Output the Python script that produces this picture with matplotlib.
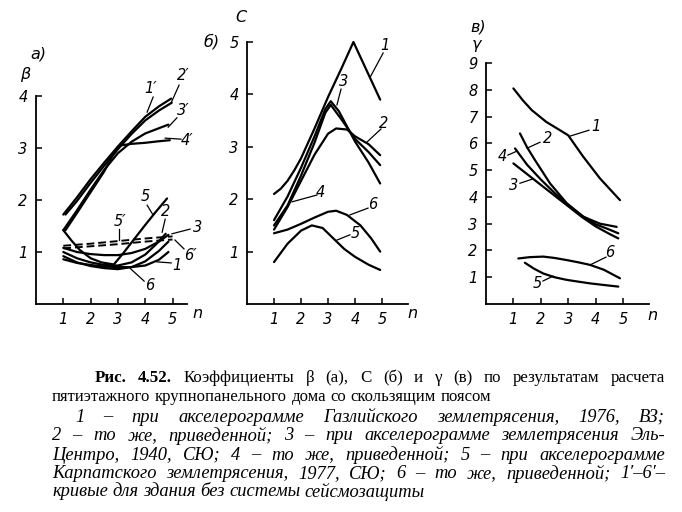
import matplotlib
matplotlib.use("Agg")
import matplotlib.pyplot as plt

W, H = 682, 512

# ---- panel a: beta ----
n_a1p = [1.0, 1.5, 2.0, 2.5, 3.0, 3.5, 4.0, 4.5, 4.95]
b_a1p = [1.72, 2.05, 2.4, 2.72, 3.03, 3.32, 3.6, 3.8, 3.95]
n_a2p = [1.08, 1.5, 2.0, 2.5, 3.0, 3.5, 4.0, 4.5, 4.97]
b_a2p = [1.72, 1.98, 2.33, 2.66, 2.98, 3.27, 3.53, 3.72, 3.87]
n_a3p = [1.0, 1.5, 2.0, 2.5, 3.0, 3.5, 4.0, 4.5, 4.85]
b_a3p = [1.42, 1.8, 2.2, 2.58, 2.9, 3.12, 3.28, 3.38, 3.45]
n_a4p = [1.08, 1.5, 2.0, 2.5, 2.8, 3.1, 3.5, 4.0, 4.5, 4.9]
b_a4p = [1.42, 1.75, 2.15, 2.55, 2.85, 3.05, 3.08, 3.1, 3.13, 3.15]
n_a5p = [1.0, 2.0, 3.0, 4.0, 5.0]
b_a5p = [1.12, 1.16, 1.21, 1.26, 1.3]
n_a6p = [1.0, 2.0, 3.0, 4.0, 5.0]
b_a6p = [1.07, 1.11, 1.15, 1.2, 1.24]
n_a5 = [1.0, 1.3, 1.6, 2.0, 2.4, 2.85, 3.2, 3.6, 4.0, 4.4, 4.8]
b_a5 = [1.42, 1.22, 1.04, 0.88, 0.8, 0.76, 0.98, 1.25, 1.52, 1.78, 2.03]
n_a3 = [1.0, 1.5, 2.0, 2.5, 3.0, 3.5, 4.0, 4.5, 4.85]
b_a3 = [1.08, 1.0, 0.96, 0.94, 0.94, 0.98, 1.06, 1.2, 1.33]
n_a2 = [1.0, 1.5, 2.0, 2.5, 3.0, 3.5, 4.0, 4.4, 4.75]
b_a2 = [1.0, 0.88, 0.8, 0.75, 0.74, 0.8, 0.95, 1.15, 1.35]
n_a6 = [1.0, 1.5, 2.0, 2.5, 3.0, 3.5, 4.0, 4.5, 4.85]
b_a6 = [0.92, 0.8, 0.73, 0.69, 0.67, 0.71, 0.82, 1.02, 1.2]
n_a1 = [1.0, 1.5, 2.0, 2.5, 3.0, 3.5, 4.0, 4.5, 4.85]
b_a1 = [0.86, 0.79, 0.75, 0.72, 0.71, 0.71, 0.74, 0.85, 1.0]

# ---- panel b: C ----
n_b1 = [1.0, 1.25, 1.5, 1.75, 2.0, 2.5, 3.0, 3.5, 3.94, 4.93]
c_b1 = [2.1, 2.2, 2.35, 2.55, 2.78, 3.35, 3.95, 4.5, 5.0, 3.9]
n_b3 = [1.0, 1.5, 2.0, 2.5, 2.9, 3.1, 3.4, 4.0, 4.5, 4.93]
c_b3 = [1.6, 2.05, 2.6, 3.2, 3.72, 3.87, 3.68, 3.1, 2.7, 2.3]
n_b4 = [1.0, 1.5, 2.0, 2.5, 2.9, 3.1, 3.5, 4.0, 4.5, 4.93]
c_b4 = [1.5, 1.88, 2.45, 3.08, 3.65, 3.8, 3.52, 3.15, 2.9, 2.65]
n_b2 = [1.0, 1.5, 2.0, 2.5, 3.0, 3.3, 3.7, 4.0, 4.5, 4.93]
c_b2 = [1.42, 1.85, 2.35, 2.85, 3.25, 3.35, 3.33, 3.2, 3.05, 2.84]
n_b6 = [1.0, 1.5, 2.0, 2.5, 3.0, 3.3, 3.7, 4.2, 4.6, 4.93]
c_b6 = [1.35, 1.42, 1.53, 1.65, 1.76, 1.78, 1.7, 1.5, 1.25, 1.0]
n_b5 = [1.0, 1.5, 2.0, 2.4, 2.8, 3.2, 3.6, 4.0, 4.5, 4.93]
c_b5 = [0.8, 1.15, 1.4, 1.5, 1.45, 1.25, 1.05, 0.9, 0.75, 0.65]

# ---- panel c: gamma ----
n_c1 = [1.0, 1.35, 1.67, 2.2, 2.7, 3.0, 3.55, 4.16, 4.89]
g_c1 = [8.05, 7.6, 7.24, 6.8, 6.49, 6.3, 5.5, 4.69, 3.88]
n_c2 = [1.24, 1.5, 1.79, 2.34, 2.95, 3.55, 4.16, 4.77]
g_c2 = [6.37, 5.85, 5.37, 4.5, 3.76, 3.26, 3.0, 2.88]
n_c4 = [1.06, 1.5, 2.0, 2.5, 3.0, 3.5, 4.0, 4.5, 4.83]
g_c4 = [5.81, 5.2, 4.65, 4.15, 3.7, 3.3, 2.98, 2.78, 2.64]
n_c3 = [1.0, 1.5, 2.0, 2.5, 3.0, 3.5, 4.0, 4.5, 4.83]
g_c3 = [5.25, 4.85, 4.45, 4.05, 3.65, 3.25, 2.9, 2.62, 2.45]
n_c6 = [1.18, 1.6, 2.09, 2.5, 2.95, 3.4, 3.8, 4.3, 4.89]
g_c6 = [1.7, 1.75, 1.77, 1.72, 1.64, 1.55, 1.46, 1.28, 0.96]
n_c5 = [1.42, 1.75, 2.09, 2.5, 2.95, 3.4, 3.8, 4.3, 4.83]
g_c5 = [1.54, 1.32, 1.14, 1.0, 0.9, 0.83, 0.77, 0.71, 0.65]

ticks_n = [1, 2, 3, 4, 5]

fig = plt.figure(figsize=(W / 100, H / 100), dpi=100)


def box(x0, y0, x1, y1):
    return [x0 / W, 1 - y1 / H, (x1 - x0) / W, (y1 - y0) / H]


def style(ax, xmax, ymax, yticks):
    ax.set_xlim(0, xmax)
    ax.set_ylim(0, ymax)
    for s in ["top", "right"]:
        ax.spines[s].set_visible(False)
    for s in ["left", "bottom"]:
        ax.spines[s].set_linewidth(1.3)
    ax.set_xticks(ticks_n)
    ax.set_yticks(yticks)
    ax.tick_params(direction="in", length=4, width=1.1, pad=6)
    for t in ax.get_xticklabels() + ax.get_yticklabels():
        t.set_fontstyle("italic")
        t.set_fontsize(10.5)
    ax.patch.set_alpha(0)


def curve(ax, x, y, dashed=False):
    if dashed:
        ax.plot(x, y, color="black", lw=1.4, ls=(0, (4, 2)), clip_on=False)
    else:
        ax.plot(x, y, color="black", lw=1.6, clip_on=False,
                solid_capstyle="round")


def label(ax, txt, pos, lead0, lead1):
    ax.plot([lead0[0], lead1[0]], [lead0[1], lead1[1]], color="black",
            lw=0.9, clip_on=False)
    ax.text(pos[0], pos[1], txt, ha="center", va="center", fontsize=10.5,
            style="italic", clip_on=False)


# panel a
ax1 = fig.add_axes(box(36, 96, 187, 304))
style(ax1, 5.53, 4, [1, 2, 3, 4])
for x, y in [(n_a1p, b_a1p), (n_a2p, b_a2p), (n_a3p, b_a3p), (n_a4p, b_a4p),
             (n_a5, b_a5), (n_a3, b_a3), (n_a2, b_a2), (n_a6, b_a6), (n_a1, b_a1)]:
    curve(ax1, x, y)
curve(ax1, n_a5p, b_a5p, dashed=True)
curve(ax1, n_a6p, b_a6p, dashed=True)
label(ax1, "1′", (4.18, 4.15), (4.29, 3.98), (4.07, 3.69))
label(ax1, "2′", (5.38, 4.40), (5.24, 4.21), (4.95, 3.87))
label(ax1, "3′", (5.38, 3.73), (5.16, 3.58), (4.84, 3.40))
label(ax1, "4′", (5.53, 3.15), (5.31, 3.17), (4.73, 3.19))
label(ax1, "5", (3.99, 2.06), (4.07, 1.90), (4.29, 1.71))
label(ax1, "2", (4.76, 1.77), (4.73, 1.63), (4.62, 1.38))
label(ax1, "5′", (3.08, 1.58), (3.04, 1.44), (3.04, 1.23))
label(ax1, "3", (5.90, 1.48), (5.64, 1.44), (4.98, 1.35))
label(ax1, "6′", (5.64, 0.94), (5.42, 1.06), (5.09, 1.23))
label(ax1, "1", (5.16, 0.75), (4.95, 0.79), (4.43, 0.81))
label(ax1, "6", (4.18, 0.35), (3.96, 0.44), (3.44, 0.69))

# panel b
ax2 = fig.add_axes(box(247, 42, 408, 304))
style(ax2, 5.96, 5, [1, 2, 3, 4, 5])
for x, y in [(n_b1, c_b1), (n_b3, c_b3), (n_b4, c_b4), (n_b2, c_b2),
             (n_b6, c_b6), (n_b5, c_b5)]:
    curve(ax2, x, y)
label(ax2, "1", (5.11, 4.94), (5.04, 4.79), (4.56, 4.33))
label(ax2, "3", (3.56, 4.24), (3.48, 4.10), (3.33, 3.80))
label(ax2, "2", (5.04, 3.45), (4.96, 3.34), (4.44, 3.09))
label(ax2, "4", (2.70, 2.12), (2.59, 2.08), (1.67, 1.95))
label(ax2, "6", (4.67, 1.89), (4.48, 1.83), (3.81, 1.70))
label(ax2, "5", (4.00, 1.35), (3.81, 1.32), (3.33, 1.22))

# panel c
ax3 = fig.add_axes(box(486, 63, 649, 304))
style(ax3, 5.95, 9, list(range(1, 10)))
for x, y in [(n_c1, g_c1), (n_c2, g_c2), (n_c4, g_c4), (n_c3, g_c3),
             (n_c6, g_c6), (n_c5, g_c5)]:
    curve(ax3, x, y)
label(ax3, "1", (4.01, 6.64), (3.76, 6.49), (3.07, 6.27))
label(ax3, "2", (2.23, 6.19), (1.97, 6.04), (1.50, 5.82))
label(ax3, "4", (0.58, 5.49), (0.80, 5.56), (1.13, 5.71))
label(ax3, "3", (0.99, 4.44), (1.24, 4.51), (1.68, 4.66))
label(ax3, "6", (4.53, 1.94), (4.38, 1.75), (3.80, 1.46))
label(ax3, "5", (1.86, 0.75), (2.08, 0.86), (2.45, 1.04))


def ftext(px, py, s, **kw):
    kw.setdefault("ha", "center")
    kw.setdefault("va", "center")
    return fig.text(px / W, 1 - py / H, s, **kw)


for px, py, s in [(38, 54, "а)"), (25, 75, "β"), (212, 42, "б)"), (241, 18, "С"),
                  (478, 27, "в)"), (477, 45, "γ"),
                  (197, 314, "n"), (412, 314, "n"), (652, 315, "n")]:
    ftext(px, py, s, fontsize=11.5, style="italic")

# ---- caption ----
renderer = fig.canvas.get_renderer()


def justify(parts, x0, x1, py, size, stretch=True):
    texts = []
    for s, kw in parts:
        kw = dict(kw)
        kw.setdefault("family", ["Liberation Serif", "DejaVu Serif"])
        kw.setdefault("fontsize", size)
        texts.append(fig.text(0, 1 - py / H, s, va="center", ha="left", **kw))
    widths = [t.get_window_extent(renderer).width for t in texts]
    if stretch and len(texts) > 1:
        gap = (x1 - x0 - sum(widths)) / (len(texts) - 1)
    else:
        gap = 4.5
    x = x0
    for t, w in zip(texts, widths):
        t.set_x(x / W)
        x += w + gap


B = {"weight": "bold"}
R = {}
I = {"style": "italic"}

line1 = [("Рис.", B), ("4.52.", B), ("Коэффициенты", R), ("β", R), ("(а),", R),
         ("С", R), ("(б)", R), ("и", R), ("γ", R), ("(в)", R), ("по", R),
         ("результатам", R), ("расчета", R)]
justify(line1, 95, 665, 378, 12.2)
line2 = [(w, R) for w in "пятиэтажного крупнопанельного дома со скользящим поясом".split()]
justify(line2, 52, 455, 397, 12.0, stretch=False)

cap_lines = [
    ("1 – при акселерограмме Газлийского землетрясения, 1976, ВЗ;", 75, 665, 417, True),
    ("2 – то же, приведенной; 3 – при акселерограмме землетрясения Эль-", 52, 665, 436, True),
    ("Центро, 1940, СЮ; 4 – то же, приведенной; 5 – при акселерограмме", 52, 665, 455, True),
    ("Карпатского землетрясения, 1977, СЮ; 6 – то же, приведенной; 1′–6′–", 52, 665, 474, True),
    ("кривые для здания без системы сейсмозащиты", 52, 415, 492, False),
]
for s, x0, x1, py, st in cap_lines:
    justify([(w, I) for w in s.split()], x0, x1, py, 13.3, stretch=st)

fig.savefig("out.png", dpi=100)
